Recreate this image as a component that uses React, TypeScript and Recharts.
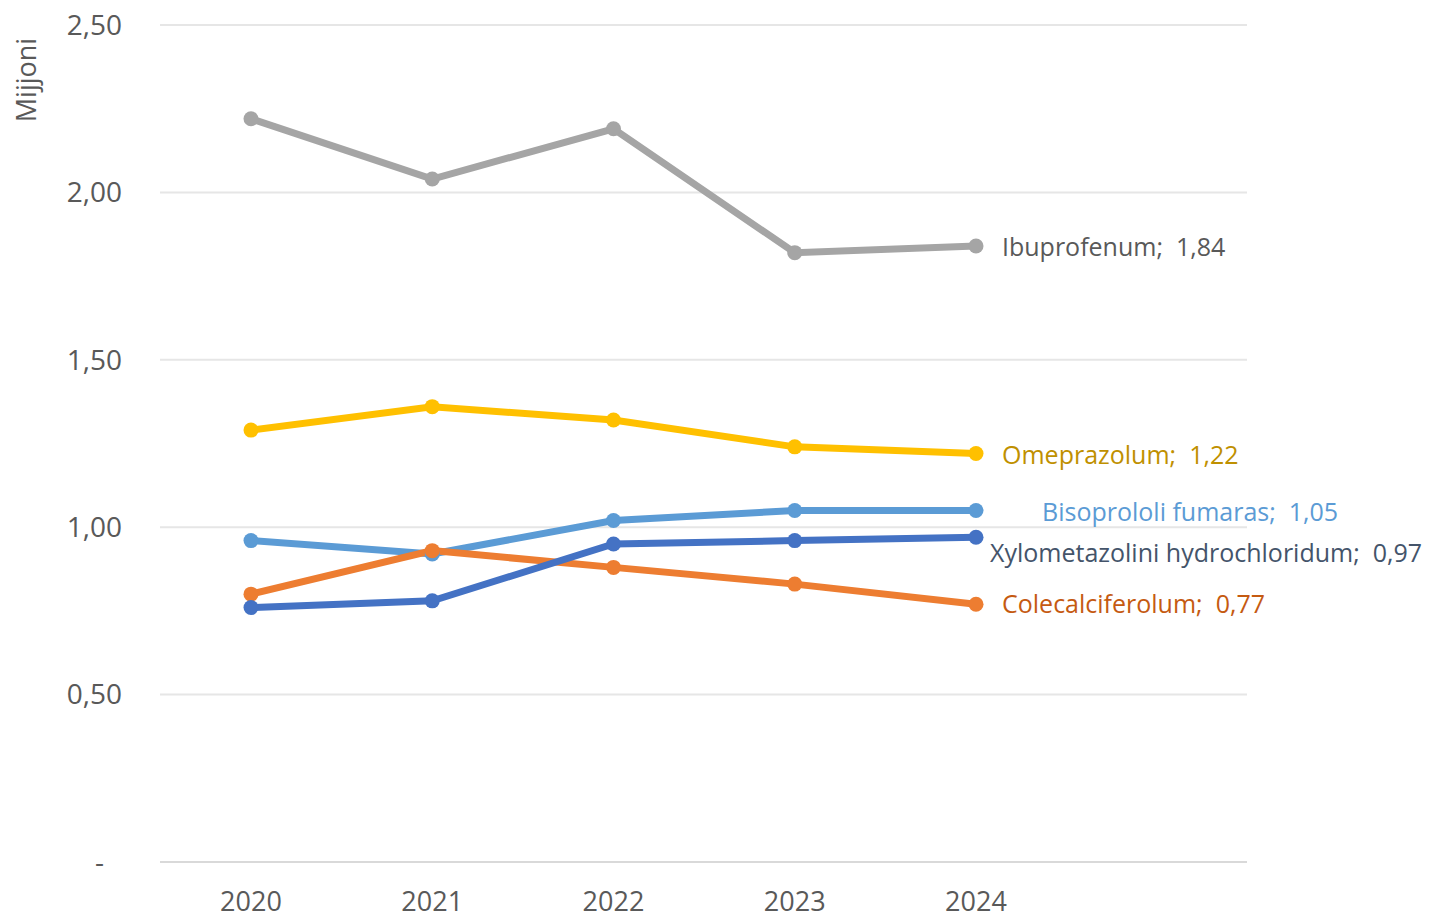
import { LineChart, Line, XAxis, YAxis, CartesianGrid, LabelList } from 'recharts';

const years = ['2020', '2021', '2022', '2023', '2024'];
const ibuprofenum = [2.22, 2.04, 2.19, 1.82, 1.84];
const omeprazolum = [1.29, 1.36, 1.32, 1.24, 1.22];
const bisoprololi = [0.96, 0.92, 1.02, 1.05, 1.05];
const colecalciferolum = [0.8, 0.93, 0.88, 0.83, 0.77];
const xylometazolini = [0.76, 0.78, 0.95, 0.96, 0.97];
const yTicks = [0, 0.5, 1, 1.5, 2, 2.5];

const chartData = years.map((year, i) => ({
  year,
  ibuprofenum: ibuprofenum[i],
  omeprazolum: omeprazolum[i],
  bisoprololi: bisoprololi[i],
  colecalciferolum: colecalciferolum[i],
  xylometazolini: xylometazolini[i],
}));

const FONT = '"Open Sans", "Noto Sans", sans-serif';

function formatValue(v: number): string {
  return v.toFixed(2).replace('.', ',');
}

const YTick = ({ x, y, payload }: any) => {
  const isZero = payload.value === 0;
  return (
    <text
      x={isZero ? x - 18 : x}
      y={y}
      dy="0.35em"
      textAnchor="end"
      fill="#595959"
      fontSize={28}
      fontFamily={FONT}
    >
      {isZero ? '-' : formatValue(payload.value)}
    </text>
  );
};

function endLabel(name: string, color: string, dx: number, dy: number) {
  return (props: any) => {
    const { x, y, value, index } = props;
    if (index !== years.length - 1) return null;
    return (
      <text
        x={x + dx}
        y={y + dy}
        dy="0.35em"
        fill={color}
        fontSize={25}
        fontFamily={FONT}
        textAnchor="start"
      >
        {name};{'\u00a0'} {formatValue(value)}
      </text>
    );
  };
}

const series = [
  { key: 'ibuprofenum', name: 'Ibuprofenum', color: '#A5A5A5', labelColor: '#595959', dx: 26, dy: 1 },
  { key: 'omeprazolum', name: 'Omeprazolum', color: '#FFC000', labelColor: '#BF9000', dx: 26, dy: 2 },
  { key: 'bisoprololi', name: 'Bisoprololi fumaras', color: '#5B9BD5', labelColor: '#5B9BD5', dx: 66, dy: 2 },
  { key: 'colecalciferolum', name: 'Colecalciferolum', color: '#ED7D31', labelColor: '#C55A11', dx: 26, dy: 0 },
  { key: 'xylometazolini', name: 'Xylometazolini hydrochloridum', color: '#4472C4', labelColor: '#44546A', dx: 14, dy: 16 },
];

export default function App() {
  return (
    <div style={{ position: 'absolute', left: 0, top: 0, background: '#fff' }}>
      <LineChart
        width={1432}
        height={919}
        data={chartData}
        margin={{ top: 25, right: 185, bottom: 0, left: 0 }}
      >
        <CartesianGrid vertical={false} stroke="#E6E6E6" strokeWidth={2} />
        <XAxis
          dataKey="year"
          padding={{ left: 91, right: 271 }}
          height={57}
          stroke="#D9D9D9"
          strokeWidth={2}
          tickLine={false}
          tickSize={0}
          tickMargin={30}
          tick={{ fill: '#595959', fontSize: 27, fontFamily: FONT }}
        />
        <YAxis
          width={160}
          domain={[0, 2.5]}
          ticks={yTicks}
          axisLine={false}
          tickLine={false}
          tickSize={0}
          tickMargin={38}
          tick={<YTick />}
          label={{
            content: (p: any) => {
              const vb = p.viewBox || { x: 0, y: 25 };
              const cx = vb.x + 27;
              const cy = vb.y + 55;
              return (
                <text
                  x={cx}
                  y={cy}
                  transform={`rotate(-90 ${cx} ${cy})`}
                  textAnchor="middle"
                  dy="0.35em"
                  fill="#595959"
                  fontSize={27}
                  fontFamily={FONT}
                >
                  Mijjoni
                </text>
              );
            },
          }}
        />
        {series.map((s) => (
          <Line
            key={s.key}
            type="linear"
            dataKey={s.key}
            stroke={s.color}
            strokeWidth={7}
            dot={{ r: 7.5, fill: s.color, stroke: s.color, strokeWidth: 0 }}
            isAnimationActive={false}
          >
            <LabelList dataKey={s.key} content={endLabel(s.name, s.labelColor, s.dx, s.dy)} />
          </Line>
        ))}
      </LineChart>
    </div>
  );
}
